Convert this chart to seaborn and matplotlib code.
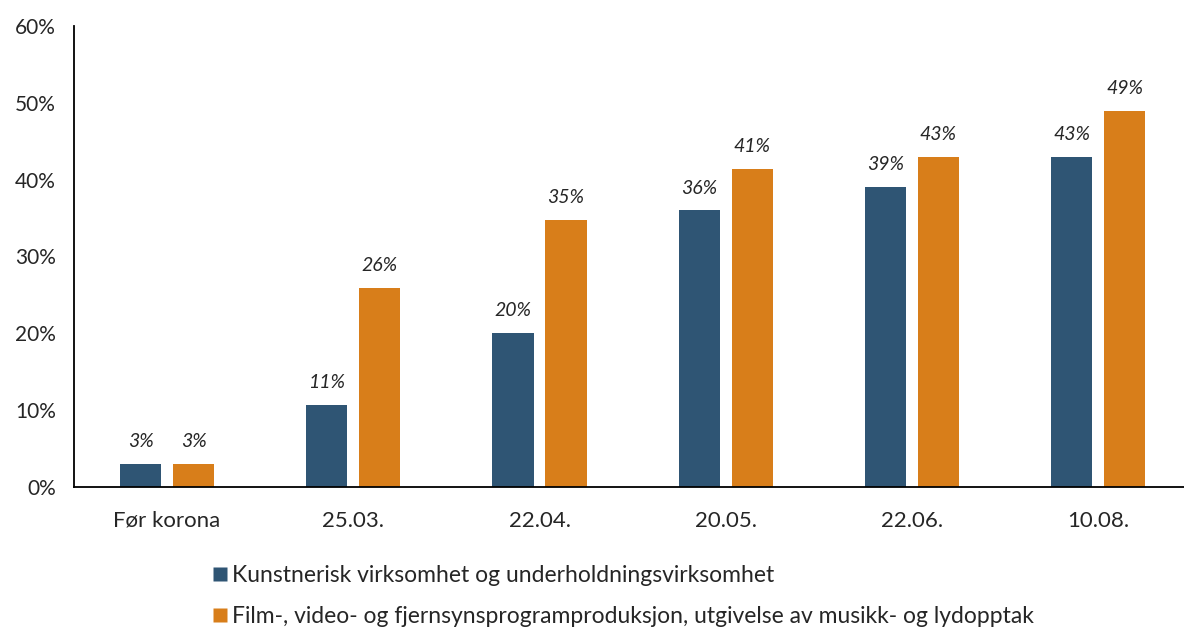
import numpy as np
import pandas as pd
import matplotlib
matplotlib.use("Agg")
import matplotlib.pyplot as plt
from matplotlib.lines import Line2D
from matplotlib.ticker import FixedLocator, PercentFormatter
import seaborn as sns

# data
categories = ['Før korona', '25.03.', '22.04.', '20.05.', '22.06.', '10.08.']
kunst = [3.0, 10.7, 20.0, 36.0, 39.0, 43.0]
film = [3.0, 25.9, 34.8, 41.4, 43.0, 49.0]
kunst_labels = ['3%', '11%', '20%', '36%', '39%', '43%']
film_labels = ['3%', '26%', '35%', '41%', '43%', '49%']
series_names = ['Kunstnerisk virksomhet og underholdningsvirksomhet',
                'Film-, video- og fjernsynsprogramproduksjon, utgivelse av musikk- og lydopptak']
colors = ['#2F5574', '#D87E1A']

df = pd.DataFrame({
    'periode': categories * 2,
    'andel': kunst + film,
    'serie': [series_names[0]] * len(categories) + [series_names[1]] * len(categories),
})

sns.set_style('white')
plt.rcParams['font.family'] = ['Lato', 'DejaVu Sans']

fig = plt.figure(figsize=(11.84, 6.28), dpi=100)
ax = fig.add_axes([74 / 1184, 1 - 487 / 628, 1 - 74 / 1184, (487 - 26) / 628])

sns.barplot(data=df, x='periode', y='andel', hue='serie', order=categories,
            hue_order=series_names, palette=colors, width=0.57, gap=0.226,
            saturation=1, edgecolor='none', legend=False, ax=ax)

# value labels above bars
for container, labels in zip(ax.containers, [kunst_labels, film_labels]):
    ax.bar_label(container, labels=labels, padding=10, fontsize=14, fontstyle='italic')

ax.set_ylim(0, 60)
ax.set_xlim(-0.5, -0.5 + (1184 - 74) / 186.2)
ax.yaxis.set_major_locator(FixedLocator(np.arange(0, 61, 10)))
ax.yaxis.set_major_formatter(PercentFormatter(decimals=0))
ax.set_xlabel('')
ax.set_ylabel('')

# group separators as minor ticks, no major ticks on x
ax.xaxis.set_minor_locator(FixedLocator(np.arange(-0.5, len(categories), 1)))
ax.tick_params(axis='x', which='major', length=0, pad=17, labelsize=16)
ax.tick_params(axis='x', which='minor', length=7, width=1.3, direction='out', color='black')
ax.tick_params(axis='y', which='major', length=7, width=1.3, direction='out', color='black',
               labelsize=15, pad=6)

for side in ['top', 'right']:
    ax.spines[side].set_visible(False)
for side in ['left', 'bottom']:
    ax.spines[side].set_color('black')
    ax.spines[side].set_linewidth(1.3)

handles = [Line2D([], [], marker='s', linestyle='none', markersize=10,
                  markerfacecolor=c, markeredgecolor='none') for c in colors]
fig.legend(handles, series_names, loc='upper left', bbox_to_anchor=(201 / 1184, 1 - 556 / 628),
           frameon=False, fontsize=16.5, labelspacing=0.85, handletextpad=0.05, handlelength=0.9,
           borderaxespad=0)

fig.savefig('out.png', dpi=100)
